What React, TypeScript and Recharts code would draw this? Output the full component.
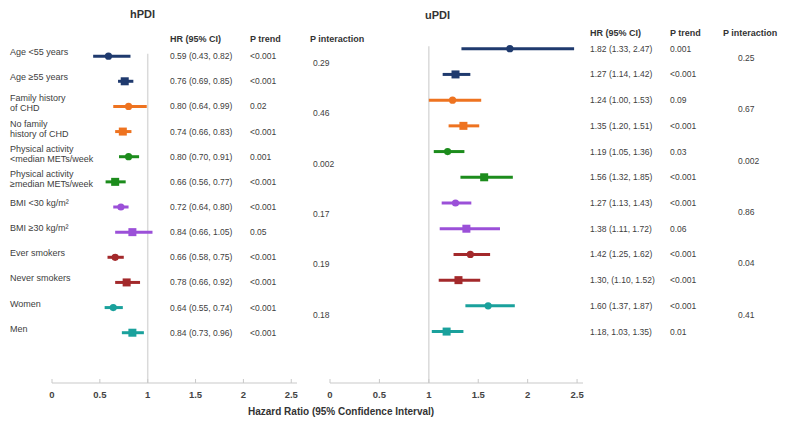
import React from 'react';
import { ScatterChart, Scatter, XAxis, YAxis, ErrorBar, ReferenceLine } from 'recharts';

// row labels (left side) and subgroup colours, one colour per pair of rows
const rowLabels = [
  ['Age <55 years'],
  ['Age ≥55 years'],
  ['Family history', 'of CHD'],
  ['No family', 'history of CHD'],
  ['Physical activity', '<median METs/week'],
  ['Physical activity', '≥median METs/week'],
  ['BMI <30 kg/m²'],
  ['BMI ≥30 kg/m²'],
  ['Ever smokers'],
  ['Never smokers'],
  ['Women'],
  ['Men'],
];
const groupColors = ['#1f3a6e', '#ee7320', '#1c8c1c', '#9b50d8', '#a3292b', '#1aa19c'];

// hPDI
const hHR = [0.59, 0.76, 0.8, 0.74, 0.8, 0.66, 0.72, 0.84, 0.66, 0.78, 0.64, 0.84];
const hLo = [0.43, 0.69, 0.64, 0.66, 0.7, 0.56, 0.64, 0.66, 0.58, 0.66, 0.55, 0.73];
const hHi = [0.82, 0.85, 0.99, 0.83, 0.91, 0.77, 0.8, 1.05, 0.75, 0.92, 0.74, 0.96];
const hText = [
  '0.59 (0.43, 0.82)', '0.76 (0.69, 0.85)', '0.80 (0.64, 0.99)', '0.74 (0.66, 0.83)',
  '0.80 (0.70, 0.91)', '0.66 (0.56, 0.77)', '0.72 (0.64, 0.80)', '0.84 (0.66, 1.05)',
  '0.66 (0.58, 0.75)', '0.78 (0.66, 0.92)', '0.64 (0.55, 0.74)', '0.84 (0.73, 0.96)',
];
const hTrend = ['<0.001', '<0.001', '0.02', '<0.001', '0.001', '<0.001', '<0.001', '0.05', '<0.001', '<0.001', '<0.001', '<0.001'];
const hInter = ['0.29', '0.46', '0.002', '0.17', '0.19', '0.18'];

// uPDI
const uHR = [1.82, 1.27, 1.24, 1.35, 1.19, 1.56, 1.27, 1.38, 1.42, 1.3, 1.6, 1.18];
const uLo = [1.33, 1.14, 1.0, 1.2, 1.05, 1.32, 1.13, 1.11, 1.25, 1.1, 1.37, 1.03];
const uHi = [2.47, 1.42, 1.53, 1.51, 1.36, 1.85, 1.43, 1.72, 1.62, 1.52, 1.87, 1.35];
const uText = [
  '1.82 (1.33, 2.47)', '1.27 (1.14, 1.42)', '1.24 (1.00, 1.53)', '1.35 (1.20, 1.51)',
  '1.19 (1.05, 1.36)', '1.56 (1.32, 1.85)', '1.27 (1.13, 1.43)', '1.38 (1.11, 1.72)',
  '1.42 (1.25, 1.62)', '1.30, (1.10, 1.52)', '1.60 (1.37, 1.87)', '1.18, 1.03, 1.35)',
];
const uTrend = ['0.001', '<0.001', '0.09', '<0.001', '0.03', '<0.001', '<0.001', '0.06', '<0.001', '<0.001', '<0.001', '0.01'];
const uInter = ['0.25', '0.67', '0.002', '0.86', '0.04', '0.41'];

const xTicks = [0, 0.5, 1, 1.5, 2, 2.5];
const rowTicks = [1, 2, 3, 4, 5, 6, 7, 8, 9, 10, 11, 12];

const FONT = '"Liberation Sans", Arial, sans-serif';
const TXT = '#404040';

type PanelProps = {
  hr: number[];
  lo: number[];
  hi: number[];
  text: string[];
  trend: string[];
  inter: string[];
  top: number;
  plotLeft: number;
  plotRight: number;
  colHR: number;
  colTrend: number;
  colInter: number;
  interDy: number;
  showLabels: boolean;
};

const Marker = (props: any) => {
  const { cx, cy, fill, payload } = props;
  if (payload.idx % 2 === 0) return <circle cx={cx} cy={cy} r={3.6} fill={fill} />;
  return <rect x={cx - 4} y={cy - 4} width={8} height={8} fill={fill} />;
};

const Panel = (p: PanelProps) => {
  const RowTick = (props: any) => {
    const { y, payload } = props;
    const i = payload.value - 1;
    const lines = rowLabels[i];
    return (
      <g fontFamily={FONT} fill={TXT}>
        {p.showLabels &&
          lines.map((l, k) => (
            <text key={k} x={10} y={lines.length === 1 ? y - 4 : y - 8 + k * 10} fontSize={9} dominantBaseline="central">
              {l}
            </text>
          ))}
        <text x={p.colHR} y={y} fontSize={8.5} dominantBaseline="central">{p.text[i]}</text>
        <text x={p.colTrend} y={y} fontSize={8.5} dominantBaseline="central">{p.trend[i]}</text>
        {i % 2 === 0 && (
          <text x={p.colInter} y={y + p.interDy} fontSize={8.5} dominantBaseline="central">{p.inter[i / 2]}</text>
        )}
      </g>
    );
  };

  const groups = groupColors.map((c, g) =>
    [2 * g, 2 * g + 1].map((i) => ({
      idx: i,
      x: p.hr[i],
      y: i + 1,
      err: [+(p.hr[i] - p.lo[i]).toFixed(2), +(p.hi[i] - p.hr[i]).toFixed(2)],
    }))
  );

  return (
    <div style={{ position: 'absolute', left: 0, top: 0 }}>
      <ScatterChart
        width={788}
        height={422}
        margin={{ top: p.top, right: 788 - p.plotRight, bottom: 14, left: 0 }}
      >
        <XAxis
          type="number"
          dataKey="x"
          domain={[0, 2.56]}
          ticks={xTicks}
          height={25}
          axisLine={{ stroke: '#c9c9c9' }}
          tickLine={{ stroke: '#c9c9c9' }}
          tickSize={-4}
          tickMargin={12}
          tick={{ fill: '#444', fontSize: 9.5, fontWeight: 600, fontFamily: FONT }}
        />
        <YAxis
          type="number"
          dataKey="y"
          domain={[0, 14]}
          reversed
          ticks={rowTicks}
          width={p.plotLeft}
          axisLine={false}
          tickLine={false}
          tick={<RowTick />}
          interval={0}
        />
        <ReferenceLine
          segment={[{ x: 1, y: 0.9 }, { x: 1, y: 14 }]}
          stroke="#dadada"
          strokeWidth={1.5}
        />
        {groups.map((d, g) => (
          <Scatter key={g} data={d} fill={groupColors[g]} shape={<Marker />} isAnimationActive={false}>
            <ErrorBar dataKey="err" direction="x" width={0} strokeWidth={3} stroke={groupColors[g]} isAnimationActive={false} />
          </Scatter>
        ))}
      </ScatterChart>
    </div>
  );
};

export default function App() {
  return (
    <div style={{ position: 'absolute', left: 0, top: 0, width: 788, height: 422, background: '#fff', overflow: 'hidden' }}>
      <svg width={788} height={422} style={{ position: 'absolute', left: 0, top: 0 }} fontFamily={FONT}>
        <text x={130} y={14} fontSize={11} fontWeight={700} fill="#333" dominantBaseline="central">hPDI</text>
        <text x={425} y={15} fontSize={11} fontWeight={700} fill="#333" dominantBaseline="central">uPDI</text>
        <g fontSize={9} fontWeight={700} fill="#333">
          <text x={170} y={39} dominantBaseline="central">HR (95% CI)</text>
          <text x={250} y={39} dominantBaseline="central">P trend</text>
          <text x={310} y={39} dominantBaseline="central">P interaction</text>
          <text x={590} y={33} dominantBaseline="central">HR (95% CI)</text>
          <text x={670} y={33} dominantBaseline="central">P trend</text>
          <text x={723} y={33} dominantBaseline="central">P interaction</text>
        </g>
        <text x={248} y={411} fontSize={10} fontWeight={700} fill="#333" dominantBaseline="central">
          Hazard Ratio (95% Confidence Interval)
        </text>
      </svg>
      <Panel
        hr={hHR} lo={hLo} hi={hHi} text={hText} trend={hTrend} inter={hInter}
        top={31} plotLeft={52} plotRight={297}
        colHR={170} colTrend={250} colInter={313} interDy={7} showLabels
      />
      <Panel
        hr={uHR} lo={uLo} hi={uHi} text={uText} trend={uTrend} inter={uInter}
        top={23} plotLeft={330} plotRight={583}
        colHR={590} colTrend={670} colInter={738} interDy={9} showLabels={false}
      />
    </div>
  );
}
